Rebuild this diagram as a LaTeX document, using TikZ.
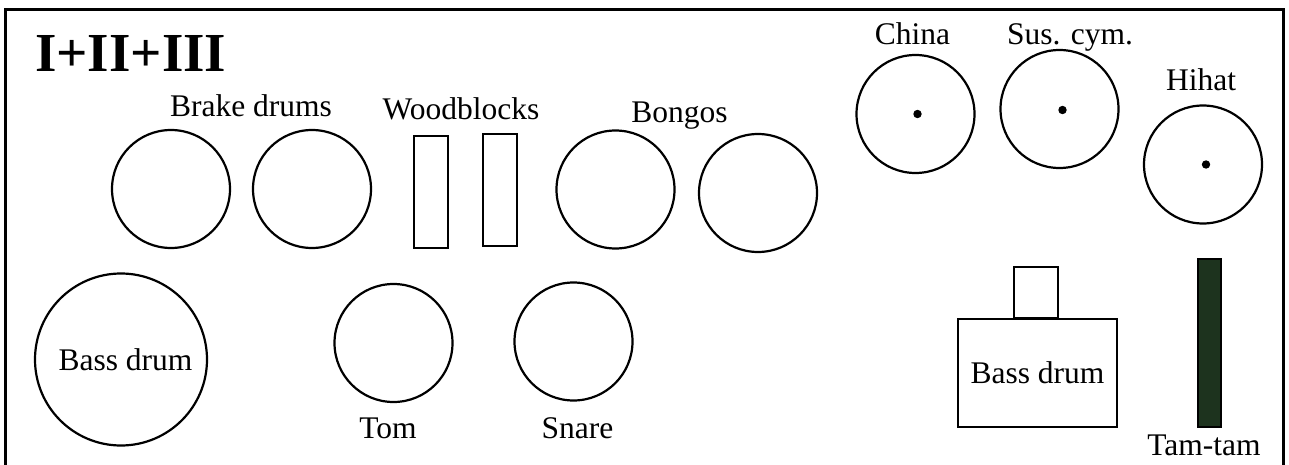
\documentclass[tikz,border=0pt]{standalone}
\usepackage{fontspec}
\setmainfont{Liberation Serif}
\usepackage{tikz}
\usetikzlibrary{shapes.geometric, positioning}
\definecolor{tamgreen}{RGB}{29,51,30}
\tikzstyle{drum} = [circle, draw=black, line width=2.2pt, inner sep=0pt, minimum size=118pt, font=\fontsize{31.5}{36}\selectfont]
\tikzstyle{wood} = [rectangle, draw=black, line width=2pt, inner sep=0pt, minimum width=34pt, minimum height=112pt]
\tikzstyle{txt} = [anchor=base, inner sep=0pt, font=\fontsize{31.5}{36}\selectfont]
\tikzset{
  cymbal/.style={
    circle,
    draw=black,
    line width=2.2pt,
    inner sep=0pt,
    minimum size=118pt
    },
  box/.style={
    rectangle,
    draw=black,
    line width=2.2pt,
    inner sep=0pt,
    font=\fontsize{31.5}{36}\selectfont
    },
}

\begin{document}
\begin{tikzpicture}[x=1pt, y=-1pt]
\useasboundingbox (0,0) rectangle (1289,465);
% frame
\draw[line width=3pt] (5,470) -- (5,10) -- (1283,10) -- (1283,470);

\node (title) [anchor=base west, inner sep=0pt, font=\fontsize{55}{60}\selectfont\bfseries] at (35,72) {I+II+III};

% brake drums
\node (brake1) [drum] at (171,189) {};
\node (brake2) [drum] at (312,189) {};
\node (brakelbl) [txt] at (251,117) {Brake drums};

% woodblocks
\node (wood1) [wood] at (430.5,192) {};
\node (wood2) [wood] at (499.5,190) {};
\node (woodlbl) [txt] at (461,120) {Woodblocks};

% bongos
\node (bongo1) [drum] at (615.5,189.5) {};
\node (bongo2) [drum] at (758,193) {};
\node (bongolbl) [txt] at (679.5,123) {Bongos};

% cymbals
\node (china) [cymbal] at (915.5,114) {};
\fill (china.center) ++(2,0) circle (4.2);
\node (chinalbl) [txt] at (912.5,45) {China};
\node (sus) [cymbal] at (1059.5,109) {};
\fill (sus.center) ++(3,1) circle (4.2);
\node (suslbl) [txt] at (1070,45) {Sus. cym.};
\node (hihat) [cymbal] at (1203,164.5) {};
\fill (hihat.center) ++(3,0) circle (4.2);
\node (hihatlbl) [txt] at (1201,91) {Hihat};

% lower row
\node (bass1) [drum, minimum size=172pt] at (121,359.5) {\hspace{9pt}Bass drum};
\node (tom) [drum] at (393.5,343) {};
\node (tomlbl) [txt] at (388,438) {Tom};
\node (snare) [drum] at (573.5,341.5) {};
\node (snarelbl) [txt] at (577.5,438) {Snare};

% bass drum (side view)
\node (bass2) [box, minimum width=159pt, minimum height=108pt] at (1037.5,373) {Bass drum};
\node (pedal) [box, minimum width=44pt, minimum height=51pt, anchor=south] at (1036,319) {};

% tam-tam
\node (tamtam) [rectangle, draw=black, fill=tamgreen, line width=2pt, inner sep=0pt, minimum width=23pt, minimum height=168pt] at (1209.5,343) {};
\node (tamlbl) [txt] at (1204,455) {Tam-tam};
\end{tikzpicture}
\end{document}
